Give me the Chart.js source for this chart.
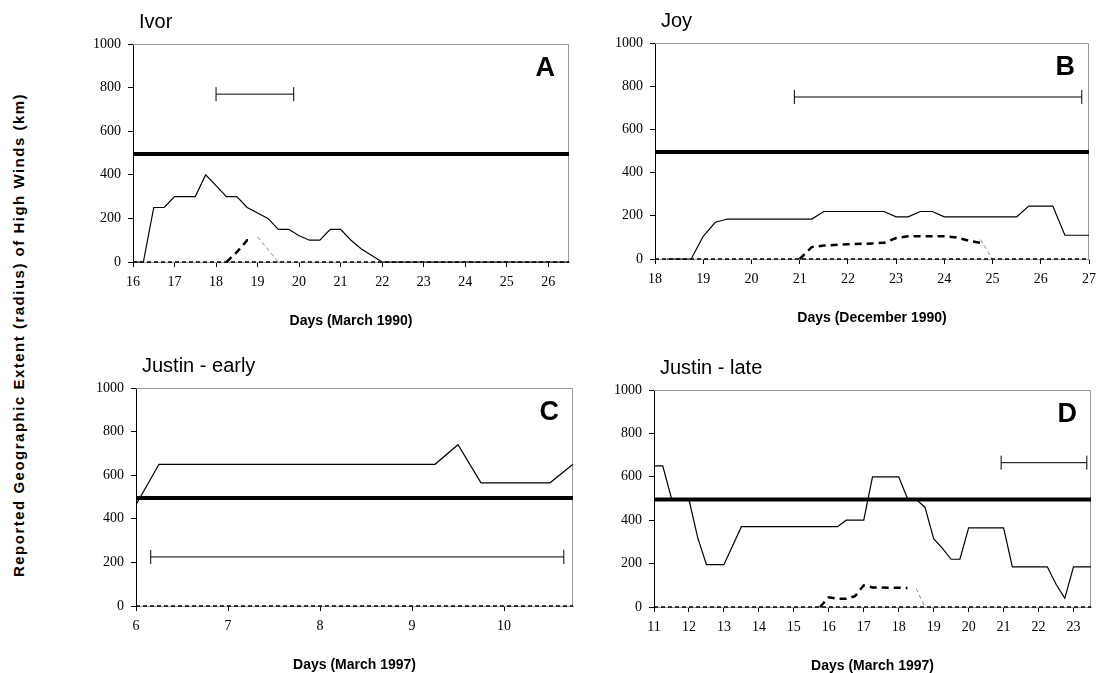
<!DOCTYPE html>
<html>
<head>
<meta charset="utf-8">
<script src="https://cdn.jsdelivr.net/npm/chart.js@4.4.1/dist/chart.umd.min.js"></script>
<style>
  body { margin: 0; background: #fff; }
  #page { position: relative; width: 1105px; height: 673px; overflow: hidden; background: #fff; }
  .panel { position: absolute; }
  #ytitle {
    position: absolute; left: 18px; top: 335px;
    transform: translate(-50%, -50%) rotate(-90deg);
    font: bold 15px "Liberation Sans", Arial, sans-serif;
    letter-spacing: 1.5px;
    white-space: nowrap; color: #000;
  }
</style>
</head>
<body>
<div id="page">
  <div id="ytitle">Reported Geographic Extent (radius) of High Winds (km)</div>
  <canvas id="chartA" class="panel"></canvas>
  <canvas id="chartB" class="panel"></canvas>
  <canvas id="chartC" class="panel"></canvas>
  <canvas id="chartD" class="panel"></canvas>
</div>
<script>
const threshold = 495;
const yTicks = [0, 200, 400, 600, 800, 1000];

// A - Ivor (March 1990)
const ivorRange = [16, 26.5];
const ivorTicks = [16, 17, 18, 19, 20, 21, 22, 23, 24, 25, 26];
const ivorDays = [16, 16.25, 16.5, 16.75, 17, 17.5, 17.75, 18, 18.25, 18.5, 18.75, 19, 19.25, 19.5, 19.75, 20, 20.25, 20.5, 20.75, 21, 21.25, 21.5, 21.75, 22, 26.5];
const ivorExtent = [0, 0, 250, 250, 300, 300, 400, 350, 300, 300, 250, 225, 200, 150, 150, 120, 100, 100, 150, 150, 100, 60, 30, 0, 0];
const ivorGaleDays = [18.25, 18.5, 18.75, 18.85];
const ivorGale = [0, 45, 100, 100];
const ivorTailDays = [19, 19.5];
const ivorTail = [115, 0];
const ivorBarDays = [18.0, 19.87];
const ivorBarLevel = 770;

// B - Joy (December 1990)
const joyRange = [18, 27];
const joyTicks = [18, 19, 20, 21, 22, 23, 24, 25, 26, 27];
const joyDays = [18.25, 18.75, 19, 19.25, 19.5, 21.25, 21.5, 22.75, 23, 23.25, 23.5, 23.75, 24, 25.5, 25.75, 26.25, 26.5, 27];
const joyExtent = [0, 0, 105, 170, 185, 185, 220, 220, 195, 195, 220, 220, 195, 195, 245, 245, 110, 110];
const joyGaleDays = [21, 21.25, 21.5, 22, 22.5, 22.75, 23, 23.25, 24, 24.25, 24.5, 24.75];
const joyGale = [0, 55, 62, 68, 72, 75, 97, 105, 105, 100, 85, 75];
const joyTailDays = [24.75, 25];
const joyTail = [90, 0];
const joyBarDays = [20.89, 26.85];
const joyBarLevel = 750;

// C - Justin early (March 1997)
const earlyRange = [6, 10.75];
const earlyTicks = [6, 7, 8, 9, 10];
const earlyDays = [6, 6.25, 9.25, 9.5, 9.75, 10.5, 10.75];
const earlyExtent = [465, 650, 650, 740, 565, 565, 650];
const earlyBarDays = [6.16, 10.65];
const earlyBarLevel = 225;

// D - Justin late (March 1997)
const lateRange = [11, 23.5];
const lateTicks = [11, 12, 13, 14, 15, 16, 17, 18, 19, 20, 21, 22, 23];
const lateDays = [11, 11.25, 11.5, 12, 12.25, 12.5, 13, 13.5, 16.25, 16.5, 17, 17.25, 18, 18.25, 18.5, 18.75, 19, 19.25, 19.5, 19.75, 20, 21, 21.25, 22.25, 22.5, 22.75, 23, 23.5];
const lateExtent = [650, 650, 500, 495, 320, 195, 195, 370, 370, 400, 400, 600, 600, 500, 495, 460, 315, 270, 220, 220, 365, 365, 185, 185, 105, 40, 185, 185];
const lateGaleDays = [15.75, 16, 16.25, 16.5, 16.75, 17, 17.25, 18.25];
const lateGale = [0, 45, 38, 38, 50, 100, 90, 88];
const lateTailDays = [18.5, 18.75];
const lateTail = [85, 0];
const lateBarDays = [20.93, 23.38];
const lateBarLevel = 665;

const pts = (xs, ys) => xs.map((x, i) => ({ x: x, y: ys[i] }));
const flat = (xs, level) => xs.map((x) => ({ x: x, y: level }));

const panelText = {
  id: "panelText",
  afterDraw(chart, args, opts) {
    const { ctx, chartArea: a } = chart;
    ctx.save();
    ctx.fillStyle = "#000";
    ctx.textBaseline = "alphabetic";
    ctx.textAlign = "left";
    ctx.font = '20px "Liberation Sans", Arial, sans-serif';
    ctx.fillText(opts.name, a.left + 6, a.top - 16);
    ctx.textAlign = "right";
    ctx.font = 'bold 27px "Liberation Sans", Arial, sans-serif';
    ctx.fillText(opts.letter, a.right - 14, a.top + 32);
    ctx.restore();
  },
};

const plotFrame = {
  id: "plotFrame",
  beforeDatasetsDraw(chart) {
    const { ctx, chartArea: a } = chart;
    ctx.save();
    ctx.strokeStyle = "#999";
    ctx.lineWidth = 1;
    ctx.beginPath();
    ctx.moveTo(a.left, a.top + 0.5);
    ctx.lineTo(a.right - 0.5, a.top + 0.5);
    ctx.lineTo(a.right - 0.5, a.bottom);
    ctx.stroke();
    ctx.restore();
  },
};

function makePanel(id, box, p) {
  const canvas = document.getElementById(id);
  canvas.width = box[2] - box[0] + 60;
  canvas.height = box[3] - box[1] + 112;
  canvas.style.left = box[0] - 48 + "px";
  canvas.style.top = box[1] - 44 + "px";

  const datasets = [
    {
      data: flat(p.range, 0),
      borderColor: "#000",
      borderWidth: 1.5,
      borderDash: [4, 3],
    },
    {
      data: flat(p.range, threshold),
      borderColor: "#000",
      borderWidth: 4,
    },
    {
      data: pts(p.days, p.extent),
      borderColor: "#000",
      borderWidth: 1.2,
    },
  ];
  if (p.galeDays) {
    datasets.push({
      data: pts(p.galeDays, p.gale),
      borderColor: "#000",
      borderWidth: 2.5,
      borderDash: [7, 5],
    });
    datasets.push({
      data: pts(p.tailDays, p.tail),
      borderColor: "#888",
      borderWidth: 1,
      borderDash: [4, 3],
    });
  }
  datasets.push({
    data: flat(p.barDays, p.barLevel),
    borderColor: "#000",
    borderWidth: 1,
    pointStyle: "line",
    pointRadius: 7,
    pointRotation: 90,
    pointBorderColor: "#000",
    pointBorderWidth: 1,
  });
  datasets.forEach((d) => {
    d.clip = { left: 0, top: 0, right: 0, bottom: 3 };
  });

  const tickFont = { family: '"Liberation Serif", "Times New Roman", serif', size: 14 };

  new Chart(canvas, {
    type: "line",
    data: { datasets: datasets },
    options: {
      responsive: false,
      animation: false,
      events: [],
      elements: {
        point: { radius: 0 },
        line: { tension: 0, fill: false },
      },
      layout: { padding: { top: 44, left: 0, right: 12, bottom: 0 } },
      plugins: {
        legend: { display: false },
        tooltip: { enabled: false },
        title: { display: false },
        panelText: { name: p.name, letter: p.letter },
      },
      scales: {
        x: {
          type: "linear",
          min: p.range[0],
          max: p.range[1],
          afterBuildTicks: (s) => {
            s.ticks = p.ticks.map((v) => ({ value: v }));
          },
          afterFit: (s) => {
            s.height = 68;
          },
          ticks: { font: tickFont, color: "#000", padding: 7, maxRotation: 0, autoSkip: false },
          grid: { drawOnChartArea: false, drawTicks: true, tickLength: 5, color: "#000" },
          border: { color: "#999", width: 1 },
          title: {
            display: true,
            text: p.xTitle,
            color: "#000",
            font: { family: '"Liberation Sans", Arial, sans-serif', size: 14, weight: "bold" },
            padding: { top: 0, bottom: 0 },
          },
        },
        y: {
          min: 0,
          max: 1000,
          afterBuildTicks: (s) => {
            s.ticks = yTicks.map((v) => ({ value: v }));
          },
          afterFit: (s) => {
            s.width = 48;
          },
          ticks: { font: tickFont, color: "#000", padding: 7, callback: (v) => String(v) },
          grid: { drawOnChartArea: false, drawTicks: true, tickLength: 5, color: "#000" },
          border: { color: "#000", width: 1 },
        },
      },
    },
    plugins: [plotFrame, panelText],
  });
}

makePanel("chartA", [133, 44, 569, 262], {
  name: "Ivor", letter: "A", xTitle: "Days (March 1990)",
  range: ivorRange, ticks: ivorTicks, days: ivorDays, extent: ivorExtent,
  galeDays: ivorGaleDays, gale: ivorGale, tailDays: ivorTailDays, tail: ivorTail,
  barDays: ivorBarDays, barLevel: ivorBarLevel,
});
makePanel("chartB", [655, 43, 1091, 259], {
  name: "Joy", letter: "B", xTitle: "Days (December 1990)",
  range: joyRange, ticks: joyTicks, days: joyDays, extent: joyExtent,
  galeDays: joyGaleDays, gale: joyGale, tailDays: joyTailDays, tail: joyTail,
  barDays: joyBarDays, barLevel: joyBarLevel,
});
makePanel("chartC", [136, 388, 573, 606], {
  name: "Justin - early", letter: "C", xTitle: "Days (March 1997)",
  range: earlyRange, ticks: earlyTicks, days: earlyDays, extent: earlyExtent,
  barDays: earlyBarDays, barLevel: earlyBarLevel,
});
makePanel("chartD", [654, 390, 1091, 607], {
  name: "Justin - late", letter: "D", xTitle: "Days (March 1997)",
  range: lateRange, ticks: lateTicks, days: lateDays, extent: lateExtent,
  galeDays: lateGaleDays, gale: lateGale, tailDays: lateTailDays, tail: lateTail,
  barDays: lateBarDays, barLevel: lateBarLevel,
});
</script>
</body>
</html>
